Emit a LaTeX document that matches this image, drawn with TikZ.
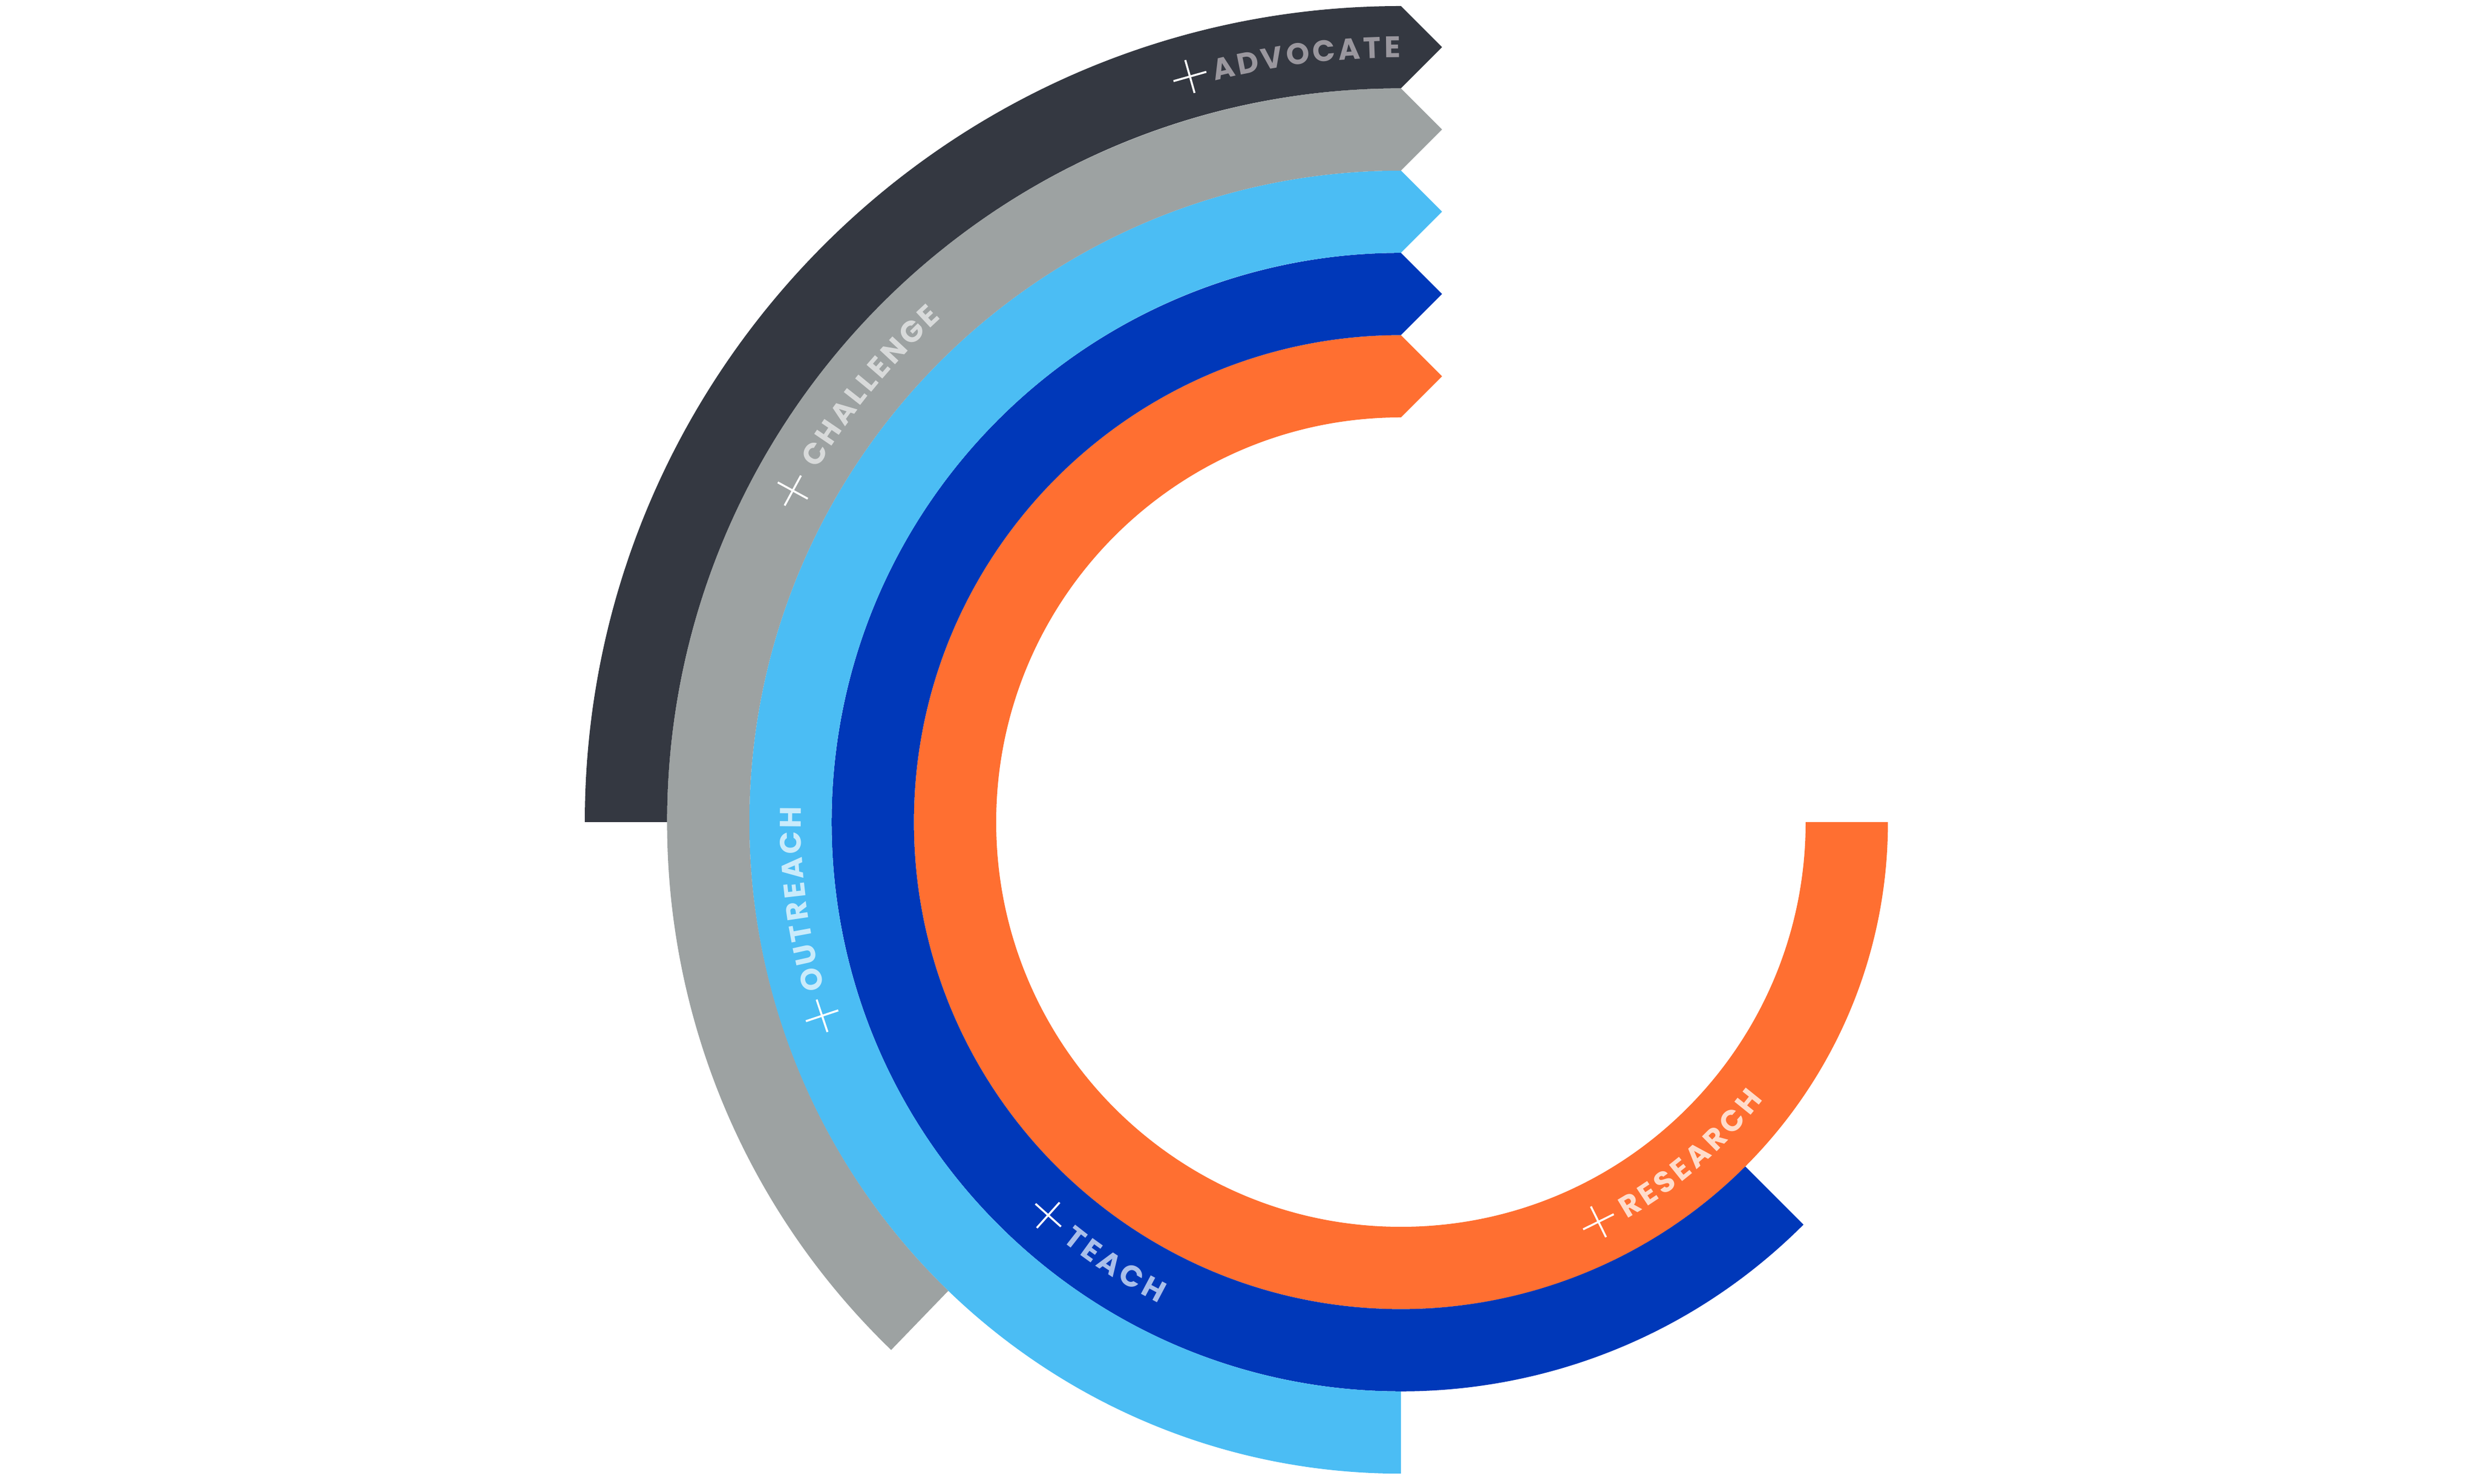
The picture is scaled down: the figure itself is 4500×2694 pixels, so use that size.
\documentclass[tikz,border=0pt]{standalone}
\usepackage{fontspec}
\usetikzlibrary{calc}
\newfontfamily\labfam{Poppins}
\newcommand\labfont{\labfam\bfseries\fontsize{54}{54}\selectfont}
\definecolor{cDark}{HTML}{343841}
\definecolor{cGray}{HTML}{9DA2A2}
\definecolor{cLBlue}{HTML}{4BBDF4}
\definecolor{cDBlue}{HTML}{0038B9}
\definecolor{cOrange}{HTML}{FF6F31}
\definecolor{tDark}{HTML}{9A979E}
\definecolor{tGray}{HTML}{D8DADA}
\definecolor{tLBlue}{HTML}{C9EBFB}
\definecolor{tDBlue}{HTML}{A9BFEA}
\definecolor{tOrange}{HTML}{FFDCCB}
\def\trk{6}
% band: inner r, outer r, start angle, colour
\newcommand\band[4]{%
  \fill[#4] ($(C)+(#3:#2)$) arc[start angle=#3, end angle=-270, radius=#2]
    -- ++(74.7,-74.7) -- ++(-74.7,-74.7)
    arc[start angle=90, end angle={360+(#3)}, radius=#1] -- cycle;}
% cross: radius, angle
\newcommand\crossmark[2]{%
  \draw[crossline] ($(C)+(#2:#1-31)$) -- ($(C)+(#2:#1+31)$);
  \draw[crossline] ($(C)+(#2:#1)+(#2+90:31)$) -- ($(C)+(#2:#1)+(#2-90:31)$);}
% label: radius, mid angle, dir (+1 ccw, -1 cw), colour, letters
\newcommand\arclabel[5]{%
  \gdef\totw{0}%
  \foreach \ch in {#5}{\begingroup\labfont\pgfmathparse{width("\ch")+\totw+\trk}\xdef\totw{\pgfmathresult}\endgroup}%
  \pgfmathsetmacro\startang{#2-(#3)*(\totw-\trk)/2/(#1)*180/pi}%
  \xdef\curang{\startang}%
  \foreach \ch in {#5}{%
    \begingroup\labfont\pgfmathparse{width("\ch")}\xdef\chw{\pgfmathresult}\endgroup
    \pgfmathsetmacro\mang{\curang+(#3)*(\chw/2)/(#1)*180/pi}%
    \pgfmathsetmacro\lrot{\mang+(#3)*90}%
    \node[letter, text=#4, rotate=\lrot] at ($(C)+(\mang:#1)$) {\ch};
    \pgfmathsetmacro\nang{\curang+(#3)*(\chw+\trk)/(#1)*180/pi}%
    \xdef\curang{\nang}%
  }}
\begin{document}
\begin{tikzpicture}[x=1pt,y=1pt,
  letter/.style={font=\labfont, inner sep=0pt, anchor=center},
  crossline/.style={white, line width=3.6pt}]
\useasboundingbox (0,0) rectangle (4500,2694);
\coordinate (C) at (2544,1201);
\band{735}{884.4}{0}{cOrange}
\band{884.4}{1033.8}{-45}{cDBlue}
\band{1033.8}{1183.2}{-90}{cLBlue}
\band{1183.2}{1332.6}{-134}{cGray}
\band{1332.6}{1482}{-180}{cDark}
\arclabel{1407.3}{97.05}{-1}{tDark}{A,D,V,O,C,A,T,E}
\arclabel{1257.9}{140.6}{-1}{tGray}{C,H,A,L,L,E,N,G,E}
\arclabel{1108.5}{187.3}{-1}{tLBlue}{O,U,T,R,E,A,C,H}
\arclabel{959.1}{237.15}{1}{tDBlue}{T,E,A,C,H}
\arclabel{809.7}{-48.9}{1}{tOrange}{R,E,S,E,A,R,C,H}
\crossmark{1407.3}{105.8}
\crossmark{1257.9}{151.4}
\crossmark{1108.5}{198.5}
\crossmark{959.1}{228.1}
\crossmark{809.7}{-63.7}
\end{tikzpicture}
\end{document}
